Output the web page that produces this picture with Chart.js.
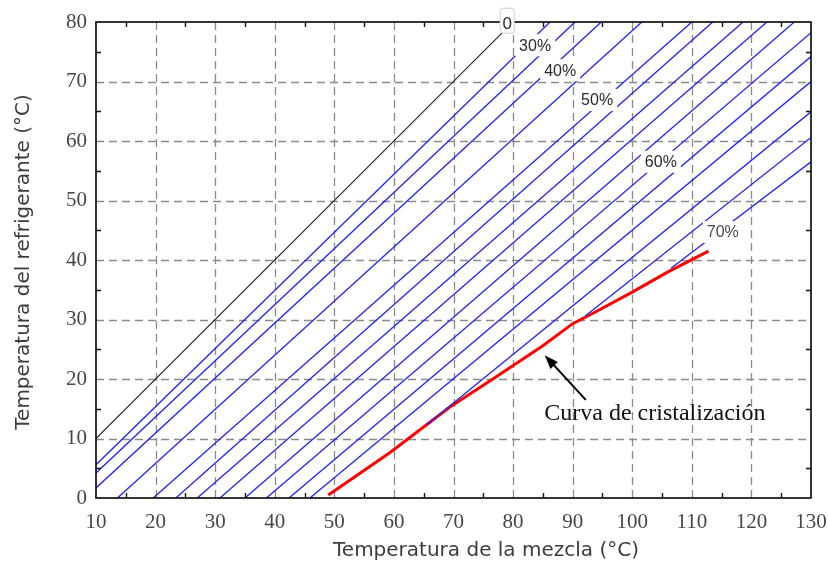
<!DOCTYPE html>
<html>
<head>
<meta charset="utf-8">
<script src="https://cdn.jsdelivr.net/npm/chart.js@4.4.1/dist/chart.umd.min.js"></script>
<style>
  html, body { margin: 0; padding: 0; background: #fff; }
  #wrap { width: 828px; height: 573px; position: relative; }
</style>
</head>
<body>
<div id="wrap"><canvas id="c" width="828" height="573"></canvas></div>
<script>
// Dühring-type chart for LiBr–water: refrigerant temperature vs. solution temperature

const xTicks = [10, 20, 30, 40, 50, 60, 70, 80, 90, 100, 110, 120, 130];
const yTicks = [0, 10, 20, 30, 40, 50, 60, 70, 80];

// Pure water (0 %) line
const pureWater = [[10, 10], [78.2, 78.2]];

// Iso-concentration lines, given by their two end points [x, y]
const isoConcentration = ['30%', '35%', '40%', '45%', '50%', '52%', '54%', '56%', '58%', '60%', '62%', '64%', '66%', '68%', '70%'];
const isoStart = [[10, 5.6], [10, 4.2], [10, 1.7], [13.6, 0], [19.6, 0], [23.4, 0], [27, 0], [30.8, 0], [35, 0],
                  [38.6, 0], [42.4, 0], [45.9, 0], [65.5, 12.3], [92, 30.5], [106.5, 38.6]];
const isoEnd   = [[86.2, 80], [90.4, 80], [94.8, 80], [101.6, 80], [110, 80], [113.5, 80], [118.6, 80], [122.6, 80], [127.2, 80],
                  [130, 78.2], [130, 74.2], [130, 70], [130, 64.9], [130, 60.6], [130, 56.5]];

// Crystallization curve
const crystX = [49, 59.3, 69.4, 76.6, 85, 90, 92, 100, 106, 112.8];
const crystY = [0.5, 7.6, 15.3, 20, 25.6, 29.3, 30.3, 34.6, 38, 41.5];

// Concentration labels placed on the lines
const curveLabels = ['30%', '40%', '50%', '60%', '70%'];
const curveLabelX = [83.7, 87.9, 94.1, 104.8, 115.2];
const curveLabelY = [76.1, 71.9, 66.9, 56.5, 44.7];

const zeroLabel = { text: '0', x: 79, y: 79.8 };
const annotationText = 'Curva de cristalización';
const annotationPos = [103.8, 14.1];
const arrowFrom = [92.2, 16.5];
const arrowTo = [85.3, 24];

const xTitle = 'Temperatura de la mezcla (°C)';
const yTitle = 'Temperatura del refrigerante (°C)';

const toPts = arr => arr.map(p => ({ x: p[0], y: p[1] }));

const datasets = [];
datasets.push({
  label: '0%',
  data: toPts(pureWater),
  borderColor: '#222222',
  borderWidth: 1.1,
});
isoConcentration.forEach((c, i) => {
  datasets.push({
    label: c,
    data: toPts([isoStart[i], isoEnd[i]]),
    borderColor: '#2626ee',
    borderWidth: 1.35,
  });
});
datasets.push({
  label: annotationText,
  data: crystX.map((x, i) => ({ x, y: crystY[i] })),
  borderColor: '#ff0000',
  borderWidth: 3,
});
datasets.forEach(d => { d.showLine = true; d.pointRadius = 0; d.fill = false; d.tension = 0; });

const decor = {
  id: 'decor',
  beforeDatasetsDraw(chart) {
    const { ctx, chartArea: a, scales: { x, y } } = chart;
    ctx.save();
    ctx.strokeStyle = '#8a8a8a';
    ctx.lineWidth = 1.3;
    ctx.setLineDash([8, 5]);
    xTicks.slice(1, -1).forEach(v => {
      const px = Math.round(x.getPixelForValue(v)) + 0.5;
      ctx.beginPath(); ctx.moveTo(px, a.top); ctx.lineTo(px, a.bottom); ctx.stroke();
    });
    yTicks.slice(1, -1).forEach(v => {
      const py = Math.round(y.getPixelForValue(v)) + 0.5;
      ctx.beginPath(); ctx.moveTo(a.left, py); ctx.lineTo(a.right, py); ctx.stroke();
    });
    ctx.restore();
  },
  afterDatasetsDraw(chart) {
    const { ctx, chartArea: a, scales: { x, y } } = chart;
    ctx.save();

    // concentration labels on white boxes
    ctx.font = '16px "Liberation Sans", Arial, sans-serif';
    ctx.textAlign = 'center';
    ctx.textBaseline = 'middle';
    curveLabels.forEach((t, i) => {
      const px = x.getPixelForValue(curveLabelX[i]);
      const py = y.getPixelForValue(curveLabelY[i]);
      const w = ctx.measureText(t).width;
      ctx.fillStyle = '#ffffff';
      ctx.fillRect(px - w / 2 - 4, py - 11, w + 8, 22);
      ctx.fillStyle = i === 4 ? '#4a4a4a' : '#2a2a2a';
      ctx.fillText(t, px, py + 1);
    });

    // frame
    ctx.strokeStyle = '#111';
    ctx.lineWidth = 1.7;
    ctx.strokeRect(a.left, a.top, a.right - a.left, a.bottom - a.top);

    // inner minor ticks
    ctx.lineWidth = 1.4;
    for (let v = xTicks[0] + 5; v < xTicks[xTicks.length - 1]; v += 10) {
      const px = Math.round(x.getPixelForValue(v)) + 0.5;
      ctx.beginPath();
      ctx.moveTo(px, a.bottom); ctx.lineTo(px, a.bottom - 5);
      ctx.moveTo(px, a.top); ctx.lineTo(px, a.top + 5);
      ctx.stroke();
    }
    for (let v = yTicks[0] + 5; v < yTicks[yTicks.length - 1]; v += 10) {
      const py = Math.round(y.getPixelForValue(v)) + 0.5;
      ctx.beginPath();
      ctx.moveTo(a.left, py); ctx.lineTo(a.left + 5, py);
      ctx.moveTo(a.right, py); ctx.lineTo(a.right - 5, py);
      ctx.stroke();
    }

    // "0" label in a small framed box
    {
      const px = x.getPixelForValue(zeroLabel.x);
      const py = y.getPixelForValue(zeroLabel.y);
      ctx.font = '17px "Liberation Sans", Arial, sans-serif';
      ctx.fillStyle = '#ffffff';
      ctx.strokeStyle = '#cfcfcf';
      ctx.lineWidth = 1;
      ctx.beginPath();
      ctx.roundRect(px - 7, py - 15, 14, 25, 3);
      ctx.fill(); ctx.stroke();
      ctx.fillStyle = '#2a2a2a';
      ctx.textAlign = 'center';
      ctx.textBaseline = 'middle';
      ctx.fillText(zeroLabel.text, px, py + 1);
    }

    // arrow pointing to the crystallization curve
    {
      const x1 = x.getPixelForValue(arrowFrom[0]), y1 = y.getPixelForValue(arrowFrom[1]);
      const x2 = x.getPixelForValue(arrowTo[0]), y2 = y.getPixelForValue(arrowTo[1]);
      const ang = Math.atan2(y2 - y1, x2 - x1);
      const hl = 14, hw = 5;
      ctx.strokeStyle = '#000';
      ctx.lineWidth = 2;
      ctx.beginPath();
      ctx.moveTo(x1, y1);
      ctx.lineTo(x2 - Math.cos(ang) * hl * 0.8, y2 - Math.sin(ang) * hl * 0.8);
      ctx.stroke();
      ctx.fillStyle = '#000';
      ctx.beginPath();
      ctx.moveTo(x2, y2);
      ctx.lineTo(x2 - Math.cos(ang) * hl + Math.sin(ang) * hw, y2 - Math.sin(ang) * hl - Math.cos(ang) * hw);
      ctx.lineTo(x2 - Math.cos(ang) * hl - Math.sin(ang) * hw, y2 - Math.sin(ang) * hl + Math.cos(ang) * hw);
      ctx.closePath();
      ctx.fill();
    }

    // annotation text
    ctx.font = '24px "Liberation Serif", "Times New Roman", serif';
    ctx.fillStyle = '#111';
    ctx.textAlign = 'center';
    ctx.textBaseline = 'middle';
    ctx.fillText(annotationText, x.getPixelForValue(annotationPos[0]), y.getPixelForValue(annotationPos[1]));

    ctx.restore();
  },
  afterDraw(chart) {
    const { ctx, chartArea: a } = chart;
    ctx.save();
    ctx.font = '20px "DejaVu Sans", sans-serif';
    ctx.fillStyle = '#3c3c3c';
    ctx.textAlign = 'center';
    ctx.textBaseline = 'middle';
    ctx.fillText(xTitle, 486, 551);
    ctx.translate(24, (a.top + a.bottom) / 2 + 2);
    ctx.rotate(-Math.PI / 2);
    ctx.fillText(yTitle, 0, 0);
    ctx.restore();
  }
};

new Chart(document.getElementById('c'), {
  type: 'scatter',
  data: { datasets },
  options: {
    responsive: false,
    animation: false,
    devicePixelRatio: 1,
    layout: { padding: { left: 0, right: 0, top: 22, bottom: 0 } },
    plugins: { legend: { display: false }, tooltip: { enabled: false } },
    scales: {
      x: {
        type: 'linear',
        min: xTicks[0], max: xTicks[xTicks.length - 1],
        afterBuildTicks: s => { s.ticks = xTicks.map(v => ({ value: v })); },
        afterFit: s => { s.height = 75; s.paddingRight = 17; },
        grid: { display: false, drawTicks: false },
        border: { display: false },
        ticks: {
          autoSkip: false, maxRotation: 0, padding: 12,
          color: '#474747',
          font: { family: '"Liberation Serif", "Times New Roman", serif', size: 21 }
        }
      },
      y: {
        type: 'linear',
        min: yTicks[0], max: yTicks[yTicks.length - 1],
        afterBuildTicks: s => { s.ticks = yTicks.map(v => ({ value: v })); },
        afterFit: s => { s.width = 96; s.paddingTop = 0; s.paddingBottom = 0; },
        grid: { display: false, drawTicks: false },
        border: { display: false },
        ticks: {
          autoSkip: false, padding: 9,
          color: '#474747',
          font: { family: '"Liberation Serif", "Times New Roman", serif', size: 21 }
        }
      }
    }
  },
  plugins: [decor]
});
</script>
</body>
</html>
